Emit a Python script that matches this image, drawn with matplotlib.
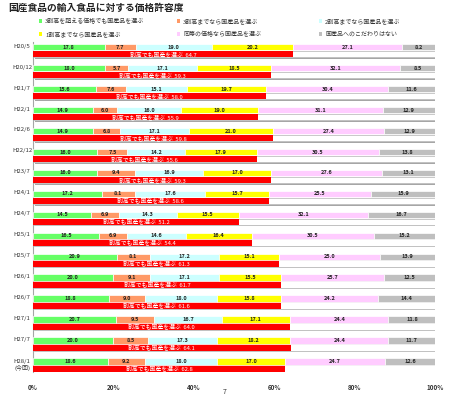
import matplotlib

matplotlib.use("Agg")
import matplotlib.pyplot as plt
from matplotlib.patches import Rectangle

plt.rcParams["font.family"] = ["Noto Sans CJK JP", "DejaVu Sans"]

# survey rounds (top to bottom)
periods = ["H20/5", "H20/12", "H21/7", "H22/1", "H22/6", "H22/12", "H23/7", "H24/1",
           "H24/7", "H25/1", "H25/7", "H26/1", "H26/7", "H27/1", "H27/7", "H28/1\n(今回)"]

over30 = [17.8, 18.0, 15.6, 14.9, 14.9, 16.0, 16.0, 17.2, 14.5, 16.5, 20.9, 20.0, 18.8, 20.7, 20.0, 18.6]
upto30 = [7.7, 5.7, 7.6, 6.0, 6.8, 7.5, 9.4, 8.1, 6.9, 6.9, 8.1, 9.1, 9.0, 9.5, 8.5, 9.2]
upto20 = [19.0, 17.1, 15.1, 16.0, 17.1, 14.2, 16.9, 17.6, 14.3, 14.6, 17.2, 17.1, 18.0, 16.7, 17.3, 18.0]
upto10 = [20.2, 18.5, 19.7, 19.0, 21.0, 17.9, 17.0, 15.7, 15.5, 16.4, 15.1, 15.5, 15.8, 17.1, 18.2, 17.0]
same_price = [27.1, 32.1, 30.4, 31.1, 27.4, 30.5, 27.6, 25.5, 32.1, 30.5, 25.0, 25.7, 24.2, 24.4, 24.4, 24.7]
no_pref = [8.2, 8.5, 11.6, 12.9, 12.9, 13.8, 13.1, 15.9, 16.7, 15.2, 13.9, 12.5, 14.4, 11.8, 11.7, 12.6]
# "割高でも国産を選ぶ" totals as printed
pay_more = [64.7, 59.3, 58.0, 55.9, 59.8, 55.6, 59.3, 58.6, 51.2, 54.4, 61.3, 61.7, 61.6, 64.0, 64.1, 62.8]

series_names = ["3割高を超える価格でも国産品を選ぶ", "3割高までなら国産品を選ぶ", "2割高までなら国産品を選ぶ",
                "1割高までなら国産品を選ぶ", "同等の価格なら国産品を選ぶ", "国産品へのこだわりはない"]
series = [over30, upto30, upto20, upto10, same_price, no_pref]
colors = ["#66FF66", "#FF9966", "#CCFFFF", "#FFFF00", "#FFCCFF", "#BFBFBF"]
RED = "#FF0000"

W, H = 450, 397
fig = plt.figure(figsize=(W / 100, H / 100), dpi=100)
ax = fig.add_axes([33 / W, 1 - 372 / H, (435 - 33) / W, (372 - 42) / H])
ax.set_xlim(0, 100)
ax.set_ylim(15.5, -0.25)

bh = 0.31
off = 0.33
ys = list(range(len(periods)))

# shadow + white background of lower bar
ax.barh([y + off + 0.07 for y in ys], [100] * len(ys), left=0.4, height=bh,
        color="#A6A6A6", lw=0, zorder=1)
ax.barh([y + off for y in ys], [100] * len(ys), height=bh, color="white",
        edgecolor="#BFBFBF", lw=0.6, zorder=2)
ax.barh([y + off for y in ys], pay_more, height=bh, color=RED, lw=0, zorder=3)

# stacked upper bar
left = [0.0] * len(ys)
for vals, c in zip(series, colors):
    ax.barh(ys, vals, left=left, height=bh, color=c, edgecolor="white", lw=0.5, zorder=3)
    for y, l, v in zip(ys, left, vals):
        ax.text(l + v / 2, y, f"{v:.1f}", ha="center", va="center", fontsize=4,
                color="#222222", fontweight="bold", zorder=4)
    left = [l + v for l, v in zip(left, vals)]

for y, v in zip(ys, pay_more):
    ax.text(v / 2, y + off, f"割高でも国産を選ぶ  {v:.1f}", ha="center", va="center",
            fontsize=4.2, color="white", zorder=4)

# row labels
for y, p in zip(ys, periods):
    yy = y + 0.17 if "\n" in p else y - 0.05
    ax.text(-2.7, yy, p, ha="center", va="center", fontsize=4.3, color="#333333",
            clip_on=False, linespacing=1.3)

for s in ["top", "right", "bottom"]:
    ax.spines[s].set_visible(False)
ax.spines["left"].set_color("#A6A6A6")
ax.spines["left"].set_linewidth(0.8)
ax.set_yticks([])
ax.set_xticks([0, 20, 40, 60, 80, 100])
ax.set_xticklabels(["0%", "20%", "40%", "60%", "80%", "100%"], fontsize=4.5,
                   color="#333333", fontweight="bold")
ax.tick_params(axis="x", length=0, pad=9)

# title
fig.text(8 / W, 1 - 8 / H, "国産食品の輸入食品に対する価格許容度", ha="left", va="center",
         fontsize=7, fontweight="bold", color="#222222")

# legend (2 rows x 3 cols)
mx = [40, 178, 320]
my = [21, 34]
for i, (name, c) in enumerate(zip(series_names, colors)):
    x = mx[i % 3]
    y = my[i // 3]
    fig.add_artist(Rectangle((x / W - 1.5 / W, 1 - y / H - 1.5 / H), 3 / W, 3 / H,
                             transform=fig.transFigure, fc=c, ec="none"))
    fig.text((x + 5) / W, 1 - y / H, name, ha="left", va="center", fontsize=4.3,
             color="#333333")

fig.text(225 / W, 1 - 392 / H, "7", ha="center", va="center", fontsize=5, color="#333333")

fig.savefig("out.png", dpi=100)
